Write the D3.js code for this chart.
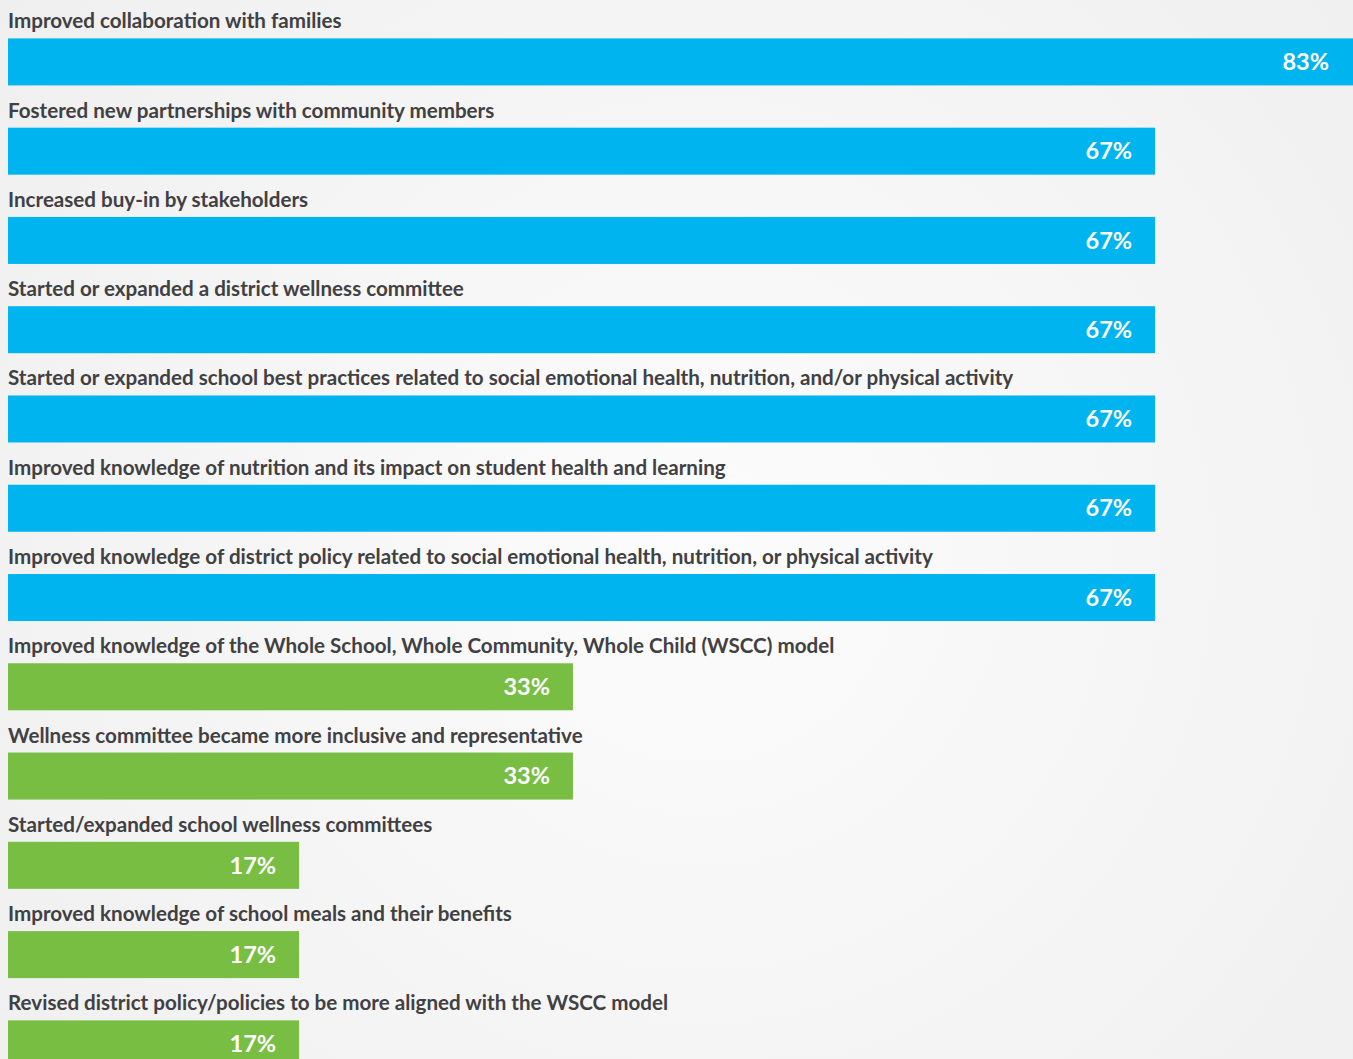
<!DOCTYPE html>
<html>
<head>
<meta charset="utf-8">
<script src="https://cdn.jsdelivr.net/npm/d3@7"></script>
<style>
    html, body { margin: 0; padding: 0; overflow: hidden; }
    body { width: 1353px; height: 1059px; }
    .label { font-family: Lato, "Open Sans", sans-serif; font-weight: 700; fill: #414042; }
    .value { font-family: Lato, "Open Sans", sans-serif; font-weight: 700; fill: #fff; }
</style>
</head>
<body>
<div id="chart"></div>
<script>
const categories = [
    "Improved collaboration with families",
    "Fostered new partnerships with community members",
    "Increased buy-in by stakeholders",
    "Started or expanded a district wellness committee",
    "Started or expanded school best practices related to social emotional health, nutrition, and/or physical activity",
    "Improved knowledge of nutrition and its impact on student health and learning",
    "Improved knowledge of district policy related to social emotional health, nutrition, or physical activity",
    "Improved knowledge of the Whole School, Whole Community, Whole Child (WSCC) model",
    "Wellness committee became more inclusive and representative",
    "Started/expanded school wellness committees",
    "Improved knowledge of school meals and their benefits",
    "Revised district policy/policies to be more aligned with the WSCC model"
];
const values = [83, 67, 67, 67, 67, 67, 67, 33, 33, 17, 17, 17];
const groups = ["high", "high", "high", "high", "high", "high", "high", "low", "low", "low", "low", "low"];

const width = 1353;
const height = 1059;
const margin = { top: 38.4, left: 8 };
const barHeight = 47;
const rowStep = 89.27;

const svg = d3.select("#chart")
    .append("svg")
    .attr("width", width)
    .attr("height", height);

// soft radial background
const grad = svg.append("defs").append("radialGradient")
    .attr("id", "bg")
    .attr("gradientUnits", "userSpaceOnUse")
    .attr("cx", 700).attr("cy", 560).attr("r", 900);
grad.append("stop").attr("offset", "0%").attr("stop-color", "#fcfcfc");
grad.append("stop").attr("offset", "100%").attr("stop-color", "#efefef");

svg.append("rect")
    .attr("width", width)
    .attr("height", height)
    .attr("fill", "url(#bg)");

const x = d3.scaleLinear().domain([0, 100]).range([0, 1712]);
const y = d3.scaleBand()
    .domain(d3.range(categories.length))
    .range([0, rowStep * categories.length]);
const color = d3.scaleOrdinal().domain(["high", "low"]).range(["#00b4ef", "#78be43"]);

const rows = svg.append("g")
    .attr("transform", `translate(${margin.left},${margin.top})`)
    .selectAll("g")
    .data(categories)
    .enter().append("g")
    .attr("transform", (d, i) => `translate(0,${y(i)})`);

rows.append("text")
    .attr("class", "label")
    .attr("x", 0)
    .attr("y", -10)
    .attr("font-size", 20.6)
    .text(d => d);

rows.append("rect")
    .attr("x", 0)
    .attr("y", 0)
    .attr("height", barHeight)
    .attr("width", (d, i) => x(values[i]))
    .attr("fill", (d, i) => color(groups[i]));

rows.append("text")
    .attr("class", "value")
    .attr("x", (d, i) => Math.min(x(values[i]), width - margin.left - 1) - 23)
    .attr("y", barHeight / 2)
    .attr("dy", "0.35em")
    .attr("text-anchor", "end")
    .attr("font-size", 23.5)
    .text((d, i) => values[i] + "%");
</script>
</body>
</html>
